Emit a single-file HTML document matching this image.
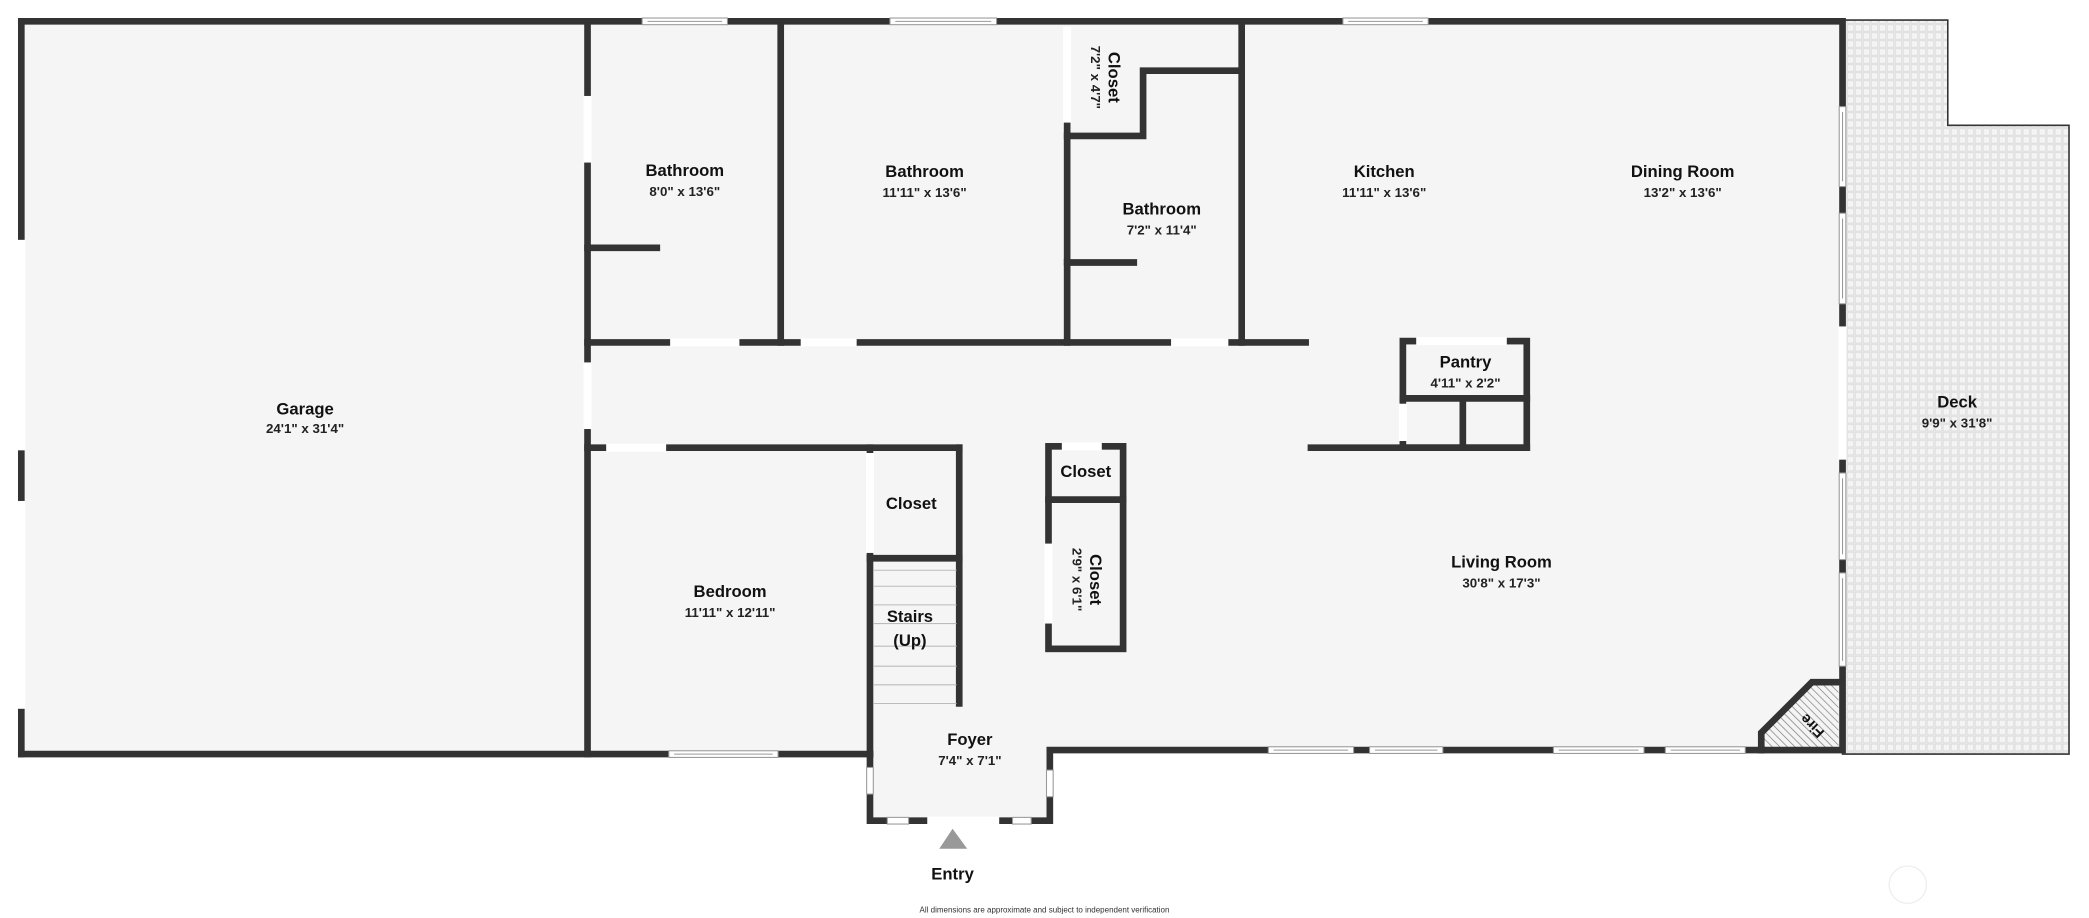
<!DOCTYPE html>
<html><head><meta charset="utf-8"><style>
html,body{margin:0;padding:0;background:#fff}
svg{display:block}
text{font-family:"Liberation Sans",sans-serif;fill:#111;text-anchor:middle}
.n{font-weight:bold;font-size:12.5px}
.d{font-size:10px;font-weight:bold;fill:#222}
</style></head><body>
<svg width="2089" height="918" viewBox="0 0 1568 689" xmlns="http://www.w3.org/2000/svg">
<defs>
<pattern id="tile" width="6" height="6" patternUnits="userSpaceOnUse">
<rect width="6" height="6" fill="#f4f4f4"/><rect x="0.5" y="0.5" width="5" height="5" fill="none" stroke="#dcdcdc" stroke-width="0.7"/>
</pattern>
<pattern id="hatch" width="4" height="4" patternUnits="userSpaceOnUse" patternTransform="rotate(-45)">
<rect width="4" height="4" fill="#f4f4f4"/><line x1="0" y1="0" x2="0" y2="4" stroke="#777" stroke-width="1"/>
</pattern>
</defs>
<!-- deck -->
<polygon points="1383,15 1462,15 1462,94 1553,94 1553,566 1383,566" fill="url(#tile)" stroke="#333" stroke-width="1.2"/>
<!-- floors -->
<rect x="16" y="16" width="1366" height="550" fill="#f5f5f5"/>
<rect x="653" y="563" width="137" height="54" fill="#f5f5f5"/>
<rect x="790" y="563" width="532" height="6" fill="#fff"/>
<!-- fireplace -->
<polygon points="1380,512 1380,563 1322,563 1322,552 1360,512" fill="url(#hatch)"/>
<g stroke="#333" stroke-width="5" stroke-linecap="square" fill="none">
<polyline points="16,16 1383,16 1383,563 1322,563"/>
<line x1="16" y1="16" x2="16" y2="566"/>
<line x1="16" y1="566" x2="653" y2="566"/>
<polyline points="653,566 653,616 788,616 788,563 1322,563"/>
<polyline points="1380,512 1360,512 1322,550 1322,563"/>
<line x1="441" y1="16" x2="441" y2="566"/>
<line x1="586" y1="16" x2="586" y2="257"/>
<line x1="801" y1="92" x2="801" y2="257"/>
<polyline points="801,102 858,102 858,53 932,53"/>
<line x1="932" y1="16" x2="932" y2="257"/>
<line x1="441" y1="186" x2="493" y2="186"/>
<line x1="801" y1="197" x2="851" y2="197"/>
<line x1="441" y1="257" x2="980" y2="257"/>
<line x1="441" y1="336" x2="720" y2="336"/>
<line x1="720" y1="336" x2="720" y2="528"/>
<line x1="653" y1="336" x2="653" y2="566"/>
<line x1="653" y1="419" x2="720" y2="419"/>
<rect x="787" y="335" width="56" height="152"/>
<line x1="787" y1="375" x2="843" y2="375"/>
<rect x="1053" y="256" width="93" height="80"/>
<line x1="1053" y1="299" x2="1146" y2="299"/>
<line x1="1098" y1="299" x2="1098" y2="336"/>
<line x1="984" y1="336" x2="1146" y2="336"/>
</g>
<g fill="#fff" stroke="#999" stroke-width="0.8">
<rect x="13" y="180" width="6" height="158" stroke="none"/>
<rect x="13" y="376" width="6" height="156" stroke="none"/>
<rect x="438" y="72" width="6" height="50" stroke="none"/>
<rect x="438" y="272" width="6" height="50" stroke="none"/>
<rect x="503" y="254" width="52" height="6" stroke="none"/>
<rect x="601" y="254" width="42" height="6" stroke="none"/>
<rect x="879" y="254" width="43" height="6" stroke="none"/>
<rect x="455" y="333" width="45" height="6" stroke="none"/>
<rect x="798" y="20" width="6" height="72" stroke="none"/>
<rect x="650" y="340" width="6" height="75" stroke="none"/>
<rect x="797" y="332" width="30" height="6" stroke="none"/>
<rect x="784" y="408" width="6" height="60" stroke="none"/>
<rect x="1063" y="253" width="68" height="6" stroke="none"/>
<rect x="1050" y="303" width="6" height="28" stroke="none"/>
<rect x="1380" y="245" width="6" height="100" stroke="none"/>
<rect x="696" y="613" width="54" height="6" stroke="none"/>
<rect x="482" y="13.5" width="64" height="5"/><line x1="486" y1="16" x2="542" y2="16"/>
<rect x="668" y="13.5" width="80" height="5"/><line x1="672" y1="16" x2="744" y2="16"/>
<rect x="1008" y="13.5" width="64" height="5"/><line x1="1012" y1="16" x2="1068" y2="16"/>
<rect x="502" y="563.5" width="82" height="5"/><line x1="506" y1="566" x2="580" y2="566"/>
<rect x="952" y="560.5" width="64" height="5"/><line x1="956" y1="563" x2="1012" y2="563"/>
<rect x="1028" y="560.5" width="55" height="5"/><line x1="1032" y1="563" x2="1079" y2="563"/>
<rect x="1166" y="560.5" width="68" height="5"/><line x1="1170" y1="563" x2="1230" y2="563"/>
<rect x="1250" y="560.5" width="60" height="5"/><line x1="1254" y1="563" x2="1306" y2="563"/>
<rect x="1380.5" y="80" width="5" height="60"/><line x1="1383" y1="84" x2="1383" y2="136"/>
<rect x="1380.5" y="160" width="5" height="68"/><line x1="1383" y1="164" x2="1383" y2="224"/>
<rect x="1380.5" y="355" width="5" height="65"/><line x1="1383" y1="359" x2="1383" y2="416"/>
<rect x="1380.5" y="430" width="5" height="70"/><line x1="1383" y1="434" x2="1383" y2="496"/>
<rect x="650.5" y="576" width="5" height="20"/>
<rect x="785.5" y="578" width="5" height="20"/>
<rect x="666" y="613.5" width="16" height="5"/>
<rect x="760" y="613.5" width="14" height="5"/>
</g>
<g stroke="#bbb" stroke-width="0.8">
<line x1="656" y1="428" x2="718" y2="428"/>
<line x1="656" y1="440" x2="718" y2="440"/>
<line x1="656" y1="454" x2="718" y2="454"/>
<line x1="656" y1="468" x2="718" y2="468"/>
<line x1="656" y1="485" x2="718" y2="485"/>
<line x1="656" y1="500" x2="718" y2="500"/>
<line x1="656" y1="514" x2="718" y2="514"/>
<line x1="656" y1="528" x2="718" y2="528"/>
</g>
<text class="n" x="229" y="311">Garage</text><text class="d" x="229" y="325">24'1" x 31'4"</text>
<text class="n" x="514" y="132">Bathroom</text><text class="d" x="514" y="147">8'0" x 13'6"</text>
<text class="n" x="694" y="133">Bathroom</text><text class="d" x="694" y="148">11'11" x 13'6"</text>
<text class="n" x="872" y="161">Bathroom</text><text class="d" x="872" y="176">7'2" x 11'4"</text>
<g transform="translate(830,58) rotate(90)"><text class="n" x="0" y="-2">Closet</text><text class="d" x="0" y="11">7'2" x 4'7"</text></g>
<text class="n" x="1039" y="133">Kitchen</text><text class="d" x="1039" y="148">11'11" x 13'6"</text>
<text class="n" x="1263" y="133">Dining Room</text><text class="d" x="1263" y="148">13'2" x 13'6"</text>
<text class="n" x="1100" y="276">Pantry</text><text class="d" x="1100" y="291">4'11" x 2'2"</text>
<text class="n" x="1469" y="306">Deck</text><text class="d" x="1469" y="321">9'9" x 31'8"</text>
<text class="n" x="1127" y="426">Living Room</text><text class="d" x="1127" y="441">30'8" x 17'3"</text>
<text class="n" x="548" y="448">Bedroom</text><text class="d" x="548" y="463">11'11" x 12'11"</text>
<text class="n" x="684" y="382">Closet</text>
<text class="n" x="815" y="358">Closet</text>
<g transform="translate(815,435) rotate(90)"><text class="n" x="0" y="-3">Closet</text><text class="d" x="0" y="10">2'9" x 6'1"</text></g>
<text class="n" x="683" y="467">Stairs</text><text class="n" x="683" y="485">(Up)</text>
<text class="n" x="728" y="559">Foyer</text><text class="d" x="728" y="574">7'4" x 7'1"</text>
<g transform="translate(1360,545) rotate(-135)"><text class="n" x="0" y="4" style="font-size:11px">Fire</text></g>
<polygon points="715,622 705,637 726,637" fill="#999"/>
<text class="n" x="715" y="660">Entry</text>
<text x="784" y="685" style="font-size:6px;fill:#333">All dimensions are approximate and subject to independent verification</text>
<circle cx="1432" cy="664" r="14" fill="none" stroke="#eee" stroke-width="1"/>
</svg>
</body></html>
